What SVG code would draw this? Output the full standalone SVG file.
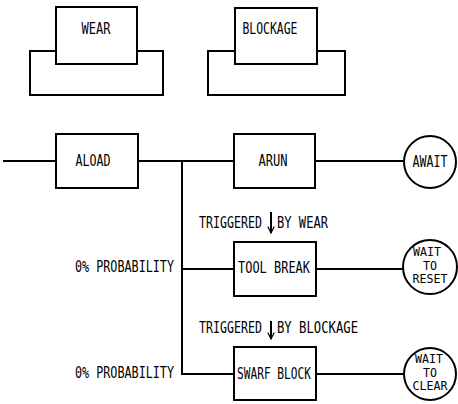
<svg xmlns="http://www.w3.org/2000/svg" width="458" height="404" viewBox="0 0 458 404">
<style>
.s{fill:#fff;stroke:#000;stroke-width:2}
.l{fill:none;stroke:#000;stroke-width:2}
text{font-family:"DejaVu Sans Mono","Liberation Mono",monospace;font-size:15px;fill:#000}
.m{text-anchor:middle}
.e{text-anchor:end}
.c{font-size:11.5px}
</style>
<defs>
<marker id="ah" viewBox="0 0 10 10" refX="9" refY="5" markerWidth="8" markerHeight="8" orient="auto" markerUnits="userSpaceOnUse">
<path d="M1,1 L9,5 L1,9" fill="none" stroke="#000" stroke-width="1.5"/>
</marker>
</defs>
<rect width="458" height="404" fill="#fff"/>
<g id="connectors">
<line class="l" x1="3" y1="161" x2="56" y2="161"/>
<line class="l" x1="138" y1="161" x2="234" y2="161"/>
<line class="l" x1="315" y1="161" x2="404" y2="161"/>
<polyline class="l" points="182,161 182,374 234,374"/>
<line class="l" x1="182" y1="269" x2="234" y2="269"/>
<line class="l" x1="316" y1="269" x2="403" y2="269"/>
<line class="l" x1="316" y1="374" x2="404" y2="374"/>
<line class="l" x1="271" y1="212" x2="271" y2="233" marker-end="url(#ah)"/>
<line class="l" x1="271" y1="321" x2="271" y2="339" marker-end="url(#ah)"/>
</g>
<g id="wear">
<rect class="s" x="30" y="51" width="133" height="44"/>
<rect class="s" x="56" y="7" width="81" height="57"/>
<text class="m" x="96" y="34" textLength="29" lengthAdjust="spacingAndGlyphs">WEAR</text>
</g>
<g id="blockage">
<rect class="s" x="208" y="51" width="137" height="44"/>
<rect class="s" x="235" y="8" width="82" height="56"/>
<text class="m" x="270" y="34" textLength="55" lengthAdjust="spacingAndGlyphs">BLOCKAGE</text>
</g>
<g id="aload">
<rect class="s" x="56" y="134" width="82" height="54"/>
<text class="m" x="93" y="166" textLength="35" lengthAdjust="spacingAndGlyphs">ALOAD</text>
</g>
<g id="arun">
<rect class="s" x="234" y="134" width="81" height="54"/>
<text class="m" x="273" y="166" textLength="29" lengthAdjust="spacingAndGlyphs">ARUN</text>
</g>
<g id="await">
<circle class="s" cx="430" cy="162" r="26"/>
<text class="m" x="430" y="167" textLength="35" lengthAdjust="spacingAndGlyphs">AWAIT</text>
</g>
<g id="toolbreak">
<rect class="s" x="234" y="242" width="82" height="54"/>
<text class="m" x="274" y="273" textLength="72" lengthAdjust="spacingAndGlyphs">TOOL BREAK</text>
</g>
<g id="waitreset">
<circle class="s" cx="430" cy="267" r="27"/>
<text class="m c" x="427" y="256" textLength="28" lengthAdjust="spacingAndGlyphs">WAIT</text>
<text class="m c" x="430" y="269.5" textLength="14" lengthAdjust="spacingAndGlyphs">TO</text>
<text class="m c" x="430" y="283" textLength="35" lengthAdjust="spacingAndGlyphs">RESET</text>
</g>
<g id="swarfblock">
<rect class="s" x="234" y="347" width="82" height="53"/>
<text class="m" x="274" y="379" textLength="74" lengthAdjust="spacingAndGlyphs">SWARF BLOCK</text>
</g>
<g id="waitclear">
<circle class="s" cx="430" cy="374" r="26"/>
<text class="m c" x="429" y="363" textLength="28" lengthAdjust="spacingAndGlyphs">WAIT</text>
<text class="m c" x="430" y="376.5" textLength="14" lengthAdjust="spacingAndGlyphs">TO</text>
<text class="m c" x="430" y="390" textLength="35" lengthAdjust="spacingAndGlyphs">CLEAR</text>
</g>
<g id="labels">
<text x="199" y="228" textLength="63" lengthAdjust="spacingAndGlyphs">TRIGGERED</text>
<text x="277" y="228" textLength="51" lengthAdjust="spacingAndGlyphs">BY WEAR</text>
<text x="199" y="333" textLength="63" lengthAdjust="spacingAndGlyphs">TRIGGERED</text>
<text x="277" y="333" textLength="81" lengthAdjust="spacingAndGlyphs">BY BLOCKAGE</text>
<text class="e" x="174" y="272" textLength="99" lengthAdjust="spacingAndGlyphs">0% PROBABILITY</text>
<text class="e" x="174" y="378" textLength="99" lengthAdjust="spacingAndGlyphs">0% PROBABILITY</text>
</g>
</svg>
